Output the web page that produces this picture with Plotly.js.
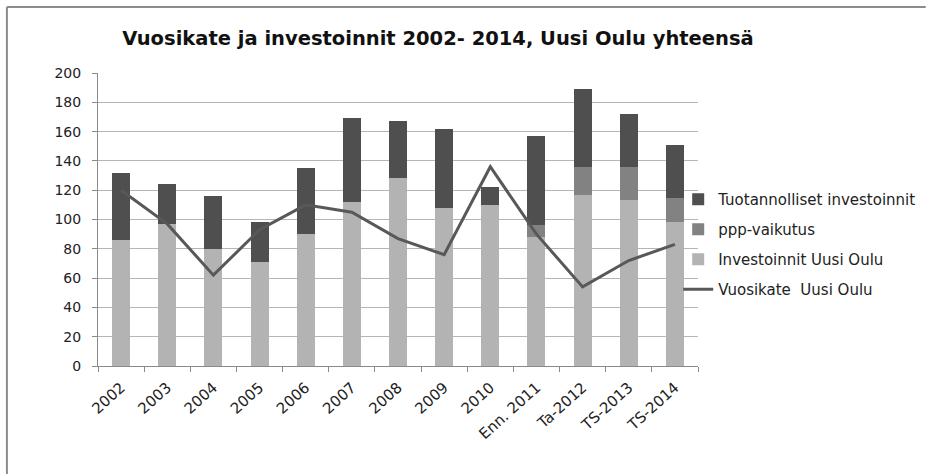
<!DOCTYPE html>
<html>
<head>
<meta charset="utf-8">
<script src="https://cdn.plot.ly/plotly-3.0.1.min.js"></script>
<style>html,body{margin:0;padding:0;background:#fff;}#chart{width:934px;height:474px;}</style>
</head>
<body>
<div id="chart"></div>
<script>
var categories = ['2002','2003','2004','2005','2006','2007','2008','2009','2010','Enn. 2011','Ta-2012','TS-2013','TS-2014'];
var investoinnitUusiOulu = [86, 97, 80, 71, 90, 112, 128, 108, 110, 88, 117, 113, 98];
var pppVaikutus = [null, null, null, null, null, null, null, null, null, 8, 19, 23, 17];
var tuotannollisetInvestoinnit = [46, 27, 36, 27, 45, 57, 39, 54, 12, 61, 53, 36, 36];
var vuosikateUusiOulu = [120, 97, 62, 93, 110, 105, 87, 76, 136, 90, 54, 72, 83];
var yTicks = [0, 20, 40, 60, 80, 100, 120, 140, 160, 180, 200];

var font = 'DejaVu Sans, sans-serif';
var traces = [
  {type:'bar', name:'Investoinnit Uusi Oulu', x:categories, y:investoinnitUusiOulu,
   marker:{color:'#b3b3b3'}, legendrank:3, legendgroup:'c'},
  {type:'bar', name:'ppp-vaikutus', x:categories, y:pppVaikutus,
   marker:{color:'#828282'}, legendrank:2, legendgroup:'b'},
  {type:'bar', name:'Tuotannolliset investoinnit', x:categories, y:tuotannollisetInvestoinnit,
   marker:{color:'#4f4f4f'}, legendrank:1, legendgroup:'a'},
  {type:'scatter', mode:'lines', name:'Vuosikate  Uusi Oulu', x:categories, y:vuosikateUusiOulu,
   line:{color:'#585858', width:3}, legendrank:4, legendgroup:'d'}
];

function px2x(p){ return (p-98)/606; }
function py2y(p){ return (366-p)/293; }

var layout = {
  width:934, height:474,
  margin:{l:98, r:230, t:73, b:108},
  paper_bgcolor:'#ffffff', plot_bgcolor:'#ffffff',
  barmode:'stack', bargap:0.61,
  font:{family:font, color:'#222'},
  title:{text:'Vuosikate ja investoinnit 2002- 2014, Uusi Oulu yhteensä',
    font:{family:'DejaVu Sans, sans-serif', size:19.5, color:'#111', weight:'bold'},
    x:0.469, xanchor:'center', y:0.92, yanchor:'middle', xref:'container', yref:'container'},
  xaxis:{type:'category', tickson:'boundaries', ticks:'outside', ticklen:5, tickcolor:'#8a8a8a',
    showline:true, linecolor:'#8a8a8a', linewidth:1, showgrid:false, tickangle:-42,
    tickfont:{family:font, size:15, color:'#222'}, ticklabelstandoff:6, fixedrange:true},
  yaxis:{range:[0,200], tickvals:yTicks, ticks:'outside', ticklen:5, tickcolor:'#8a8a8a',
    showline:true, linecolor:'#8a8a8a', linewidth:1, showgrid:true, gridcolor:'#b5b5b5', gridwidth:1,
    zeroline:false, tickfont:{family:font, size:14, color:'#222'}, ticklabelstandoff:8, fixedrange:true},
  showlegend:true,
  legend:{x:px2x(684), xanchor:'left', y:py2y(183), yanchor:'top', bgcolor:'rgba(0,0,0,0)',
    font:{family:font, size:15, color:'#222'}, tracegroupgap:7.5, traceorder:'grouped'},
  shapes:[
    {type:'line', xref:'paper', yref:'paper', x0:px2x(6), x1:px2x(934), y0:py2y(7), y1:py2y(7), line:{color:'#8c8c8c', width:2}},
    {type:'line', xref:'paper', yref:'paper', x0:px2x(6), x1:px2x(6), y0:py2y(7), y1:py2y(474), line:{color:'#8c8c8c', width:2}}
  ]
};
Plotly.newPlot('chart', traces, layout, {displayModeBar:false, staticPlot:true});
</script>
</body>
</html>
